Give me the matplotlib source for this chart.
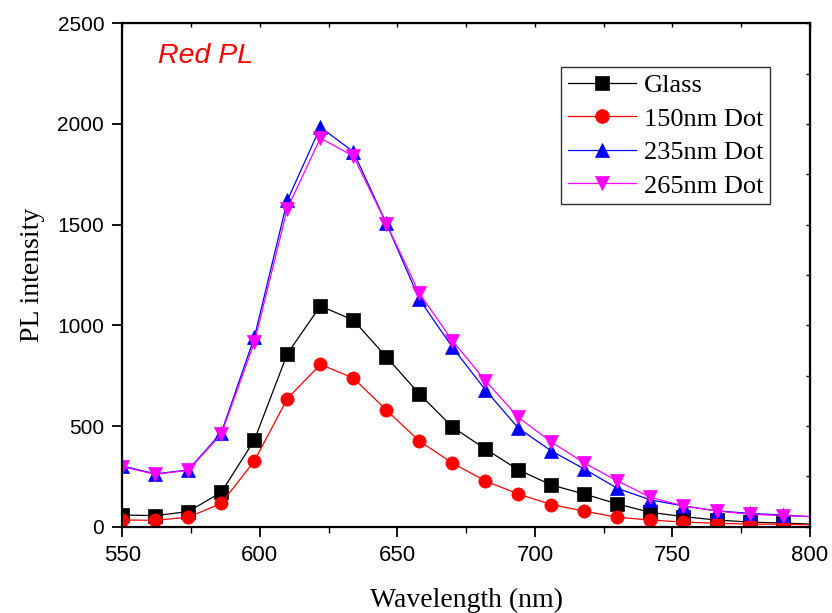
import matplotlib
matplotlib.use("Agg")
import matplotlib.pyplot as plt

wavelength = [550, 562, 574, 586, 598, 610, 622, 634, 646, 658, 670, 682,
              694, 706, 718, 730, 742, 754, 766, 778, 790, 800]
glass = [58, 55, 75, 171, 430, 859, 1096, 1026, 843, 659, 495, 386,
         282, 207, 162, 113, 71, 50, 33, 23, 18, 13]
dot150 = [33, 32, 47, 116, 326, 636, 806, 738, 579, 425, 316, 227,
          162, 110, 77, 47, 33, 23, 17, 13, 12, 10]
dot235 = [302, 262, 282, 467, 940, 1620, 1984, 1862, 1506, 1129, 891, 679,
          489, 376, 286, 190, 133, 103, 79, 66, 58, 50]
dot265 = [298, 260, 280, 460, 915, 1580, 1930, 1840, 1505, 1159, 924, 725,
          543, 420, 316, 227, 146, 103, 78, 62, 55, 50]

series = [
    ("Glass", glass, "#000000", "s"),
    ("150nm Dot", dot150, "#FF0000", "o"),
    ("235nm Dot", dot235, "#0000FF", "^"),
    ("265nm Dot", dot265, "#FF00FF", "v"),
]

fig = plt.figure(figsize=(8.32, 6.13), dpi=100)
ax = fig.add_axes([0.147, 0.1408, 0.8266, 0.8212])

nmark = len(wavelength) - 1
for label, vals, col, mk in series:
    ax.plot(wavelength, vals, color=col, lw=0.9, marker=mk, markersize=9.5,
            markevery=slice(0, nmark), markeredgewidth=0.5,
            markeredgecolor=col, markerfacecolor=col, label=label)

ax.set_xlim(550, 800)
ax.set_ylim(0, 2500)
ax.set_xticks([550, 600, 650, 700, 750, 800])
ax.set_yticks([0, 500, 1000, 1500, 2000, 2500])
ax.set_xticks([575, 625, 675, 725, 775], minor=True)

for s in ax.spines.values():
    s.set_linewidth(1.6)

ax.tick_params(axis='both', which='major', direction='out', length=7,
               width=1.3, pad=6)
ax.tick_params(axis='x', which='minor', direction='out', length=4, width=1.0)
ax.tick_params(axis='y', which='minor', left=False)

for lab in ax.get_xticklabels():
    lab.set_fontfamily("Liberation Sans")
    lab.set_fontsize(16)
for lab in ax.get_yticklabels():
    lab.set_fontfamily("Liberation Sans")
    lab.set_fontsize(15)

top = ax.secondary_xaxis('top')
top.set_xticks([550, 575, 600, 625, 650, 675, 700, 725, 750, 775, 800])
top.tick_params(direction='in', length=3, width=1.0, labeltop=False)
right = ax.secondary_yaxis('right')
right.set_yticks([0, 250, 500, 750, 1000, 1250, 1500, 1750, 2000, 2250, 2500])
right.tick_params(direction='in', length=3, width=1.0, labelright=False)

ax.set_xlabel("Wavelength (nm)", fontfamily="Liberation Serif", fontsize=20,
              labelpad=16)
ax.set_ylabel("PL intensity", fontfamily="Liberation Serif", fontsize=20,
              labelpad=9)

ax.text(0.052, 0.9206, "Red PL", transform=ax.transAxes, color="#FF0000",
        fontfamily="Liberation Sans", fontstyle="italic", fontsize=20.5,
        va="baseline", ha="left")

leg = ax.legend(loc="upper right", bbox_to_anchor=(0.942, 0.913),
                borderaxespad=0, frameon=True, fancybox=False,
                prop={"family": "Liberation Serif", "size": 19},
                handlelength=2.6, handletextpad=0.3, labelspacing=0.38,
                borderpad=0.25, markerscale=1.05)
leg.get_frame().set_edgecolor("#000000")
leg.get_frame().set_linewidth(1.0)

fig.savefig("out.png", dpi=100)
